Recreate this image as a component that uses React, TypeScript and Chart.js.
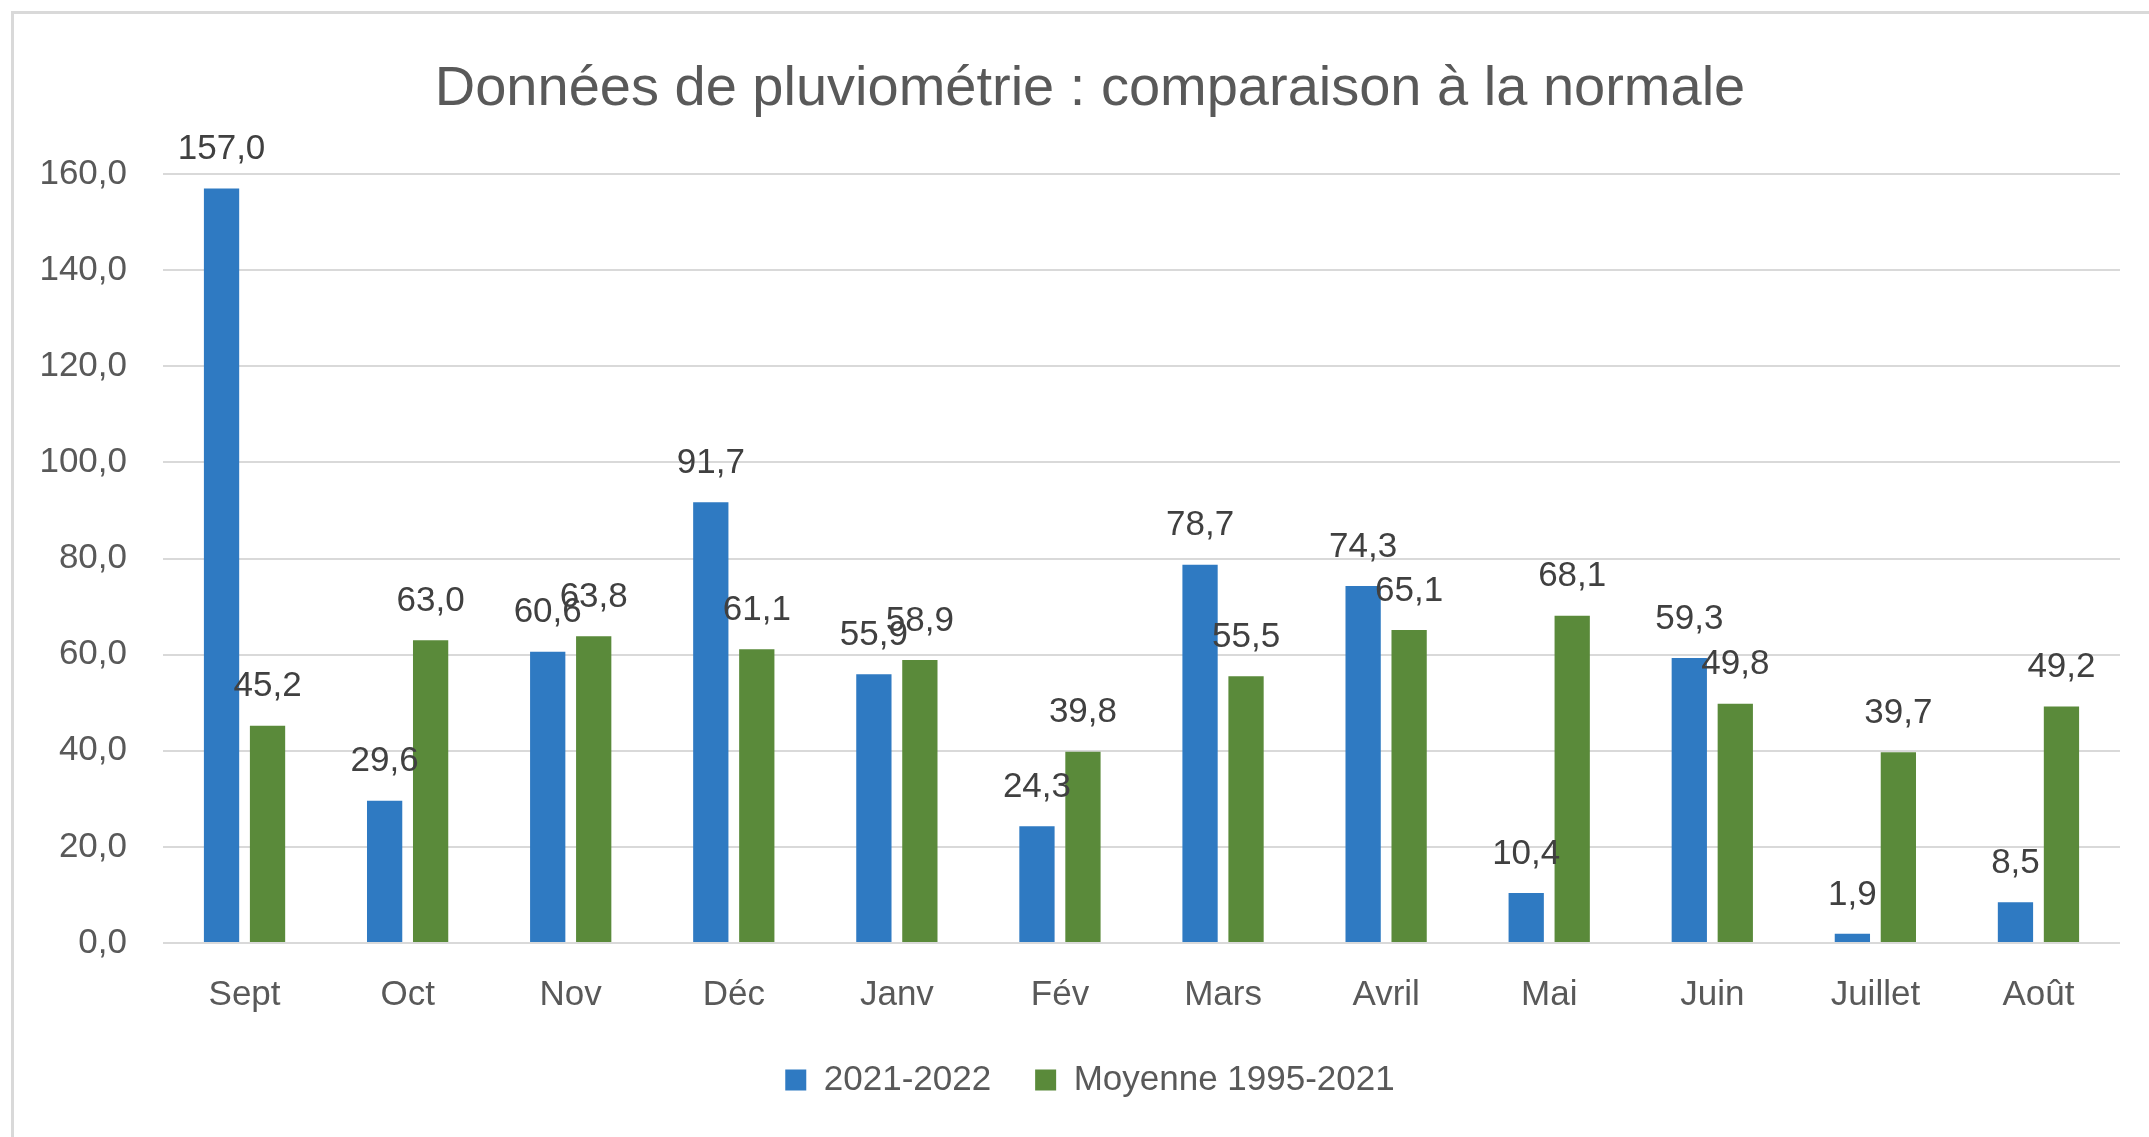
import React, { useEffect, useRef } from "react";
import { Chart, registerables } from "chart.js";

Chart.register(...registerables);

const titleText = "Données de pluviométrie : comparaison à la normale";
const categories = ["Sept", "Oct", "Nov", "Déc", "Janv", "Fév", "Mars", "Avril", "Mai", "Juin", "Juillet", "Août"];
const seriesNames = ["2021-2022", "Moyenne 1995-2021"];
const values2021 = [157.0, 29.6, 60.6, 91.7, 55.9, 24.3, 78.7, 74.3, 10.4, 59.3, 1.9, 8.5];
const valuesNormal = [45.2, 63.0, 63.8, 61.1, 58.9, 39.8, 55.5, 65.1, 68.1, 49.8, 39.7, 49.2];
const yMin = 0;
const yMax = 160;
const yStep = 20;

const FONT = '"Liberation Sans", Arial, sans-serif';
const fmt = (v: number) => v.toFixed(1).replace(".", ",");

const dataLabelPlugin = {
  id: "dataLabels",
  afterDatasetsDraw(chart: any) {
    const ctx = chart.ctx;
    ctx.save();
    ctx.font = `35px ${FONT}`;
    ctx.fillStyle = "#404040";
    ctx.textAlign = "center";
    ctx.textBaseline = "middle";
    chart.data.datasets.forEach((ds: any, di: number) => {
      const meta = chart.getDatasetMeta(di);
      meta.data.forEach((bar: any, i: number) => {
        ctx.fillText(fmt(ds.data[i]), bar.x, bar.y - 39);
      });
    });
    ctx.restore();
  },
};

export default function App() {
  const ref = useRef<HTMLCanvasElement | null>(null);

  useEffect(() => {
    if (!ref.current) return;
    Chart.defaults.font.family = FONT;
    const chart = new Chart(ref.current, {
      type: "bar",
      data: {
        labels: categories,
        datasets: [
          {
            label: seriesNames[0],
            data: values2021,
            backgroundColor: "#2F7AC2",
            categoryPercentage: 0.564,
            barPercentage: 0.767,
          },
          {
            label: seriesNames[1],
            data: valuesNormal,
            backgroundColor: "#5A8A3A",
            categoryPercentage: 0.564,
            barPercentage: 0.767,
          },
        ],
      },
      options: {
        responsive: false,
        animation: false,
        devicePixelRatio: 1,
        layout: { padding: { left: 0, right: 0, top: 0, bottom: 29.5 } },
        plugins: {
          title: {
            display: true,
            text: titleText,
            color: "#595959",
            font: { size: 56, weight: "normal", family: FONT },
            padding: { top: 56.4, bottom: 50.4 },
          },
          legend: {
            display: true,
            position: "bottom",
            labels: {
              color: "#595959",
              font: { size: 35, family: FONT },
              boxWidth: 21,
              boxHeight: 21,
              padding: 44,
            },
          },
          tooltip: { enabled: false },
        },
        scales: {
          x: {
            grid: { display: false, drawTicks: false },
            border: { display: false },
            ticks: { color: "#595959", font: { size: 35, family: FONT }, padding: 31 },
            afterFit: (s: any) => {
              s.height = 75.5;
            },
          },
          y: {
            min: yMin,
            max: yMax,
            position: "left",
            ticks: {
              stepSize: yStep,
              color: "#595959",
              font: { size: 35, family: FONT },
              padding: 36,
              callback: (v: any) => fmt(Number(v)),
            },
            grid: { color: "#D9D9D9", lineWidth: 2, drawTicks: false },
            border: { display: false },
            afterFit: (s: any) => {
              s.width = 163;
            },
          },
          y2: {
            type: "linear",
            position: "right",
            min: 0,
            max: 1,
            ticks: { display: false },
            grid: { display: false, drawTicks: false },
            border: { display: false },
            afterFit: (s: any) => {
              s.width = 60;
            },
          },
        },
      },
      plugins: [dataLabelPlugin],
    } as any);
    return () => chart.destroy();
  }, []);

  return (
    <div
      style={{
        position: "absolute",
        left: 0,
        top: 0,
        width: 2149,
        height: 1137,
        overflow: "hidden",
        background: "#ffffff",
      }}
    >
      <div
        style={{
          position: "absolute",
          left: 11,
          top: 11,
          width: 2400,
          height: 1400,
          border: "3px solid #D9D9D9",
          boxSizing: "border-box",
        }}
      />
      <canvas
        ref={ref}
        width={2180}
        height={1137}
        style={{ position: "absolute", left: 0, top: 0, width: 2180, height: 1137 }}
      />
    </div>
  );
}
